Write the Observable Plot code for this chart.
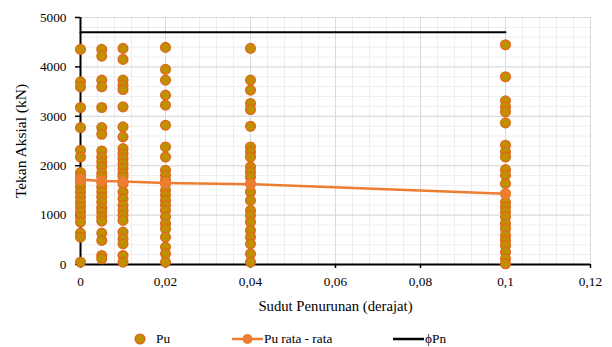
<!DOCTYPE html>
<html>
<head>
<meta charset="utf-8">
<script src="https://cdn.jsdelivr.net/npm/d3@7"></script>
<script src="https://cdn.jsdelivr.net/npm/@observablehq/plot@0.6"></script>
<style>
  html, body { margin: 0; padding: 0; background: #fff; }
  #wrap { width: 612px; height: 347px; position: relative; font-family: "Liberation Serif", serif; }
  #chart svg text { font-family: "Liberation Serif", serif !important; }
  #legend { position: absolute; left: 0; top: 310px; width: 612px; height: 37px; font-size: 13.3px; color: #000; font-family: "Liberation Serif", serif; }
  #legend .item { position: absolute; top: 29px; transform: translateY(-50%); display: flex; align-items: center; }
  #legend span { font-family: "Liberation Serif", serif; }
  #legend svg { display: block; }
</style>
</head>
<body>
<div id="wrap">
  <div id="chart"></div>
  <div id="legend"></div>
</div>
<script>
// Settlement angle (degrees) for each group of Pu values
const angles = [0, 0.005, 0.01, 0.02, 0.04, 0.1];

// Pu (kN) at each settlement angle
const pu0     = [4354, 3698, 3597, 3178, 2772, 2312, 2177, 1859, 1771, 1670, 1569, 1467, 1366, 1264, 1163, 1062, 960, 859, 636, 554, 47];
const pu0005  = [4354, 4219, 3732, 3597, 3178, 2772, 2637, 2299, 2177, 2076, 1974, 1853, 1771, 1670, 1569, 1467, 1366, 1264, 1149, 1062, 960, 879, 636, 487, 183, 115];
const pu001   = [4375, 4152, 3732, 3631, 3543, 3191, 2786, 2583, 2346, 2245, 2143, 2042, 1941, 1839, 1771, 1636, 1467, 1332, 1197, 1095, 994, 893, 656, 521, 419, 183, 47];
const pu002   = [4395, 3949, 3732, 3428, 3225, 2820, 2380, 2177, 1907, 1805, 1704, 1636, 1501, 1400, 1298, 1197, 1095, 960, 825, 723, 554, 352, 216, 47];
const pu004   = [4375, 3732, 3529, 3259, 3137, 2799, 2380, 2279, 2177, 1974, 1873, 1771, 1636, 1467, 1298, 1095, 994, 859, 690, 554, 419, 216, 47];
const pu01    = [4449, 3800, 3313, 3191, 3090, 2867, 2414, 2279, 2177, 1920, 1805, 1636, 1433, 1264, 1163, 1062, 960, 825, 723, 588, 487, 385, 250, 115, 14];

// Average Pu (kN) at each settlement angle
const puAvg = [1720, 1690, 1680, 1650, 1625, 1430];

// Design capacity phiPn (kN), drawn from the first to the last angle
const phiPnAngles = [0, 0.1];
const phiPn = [4700, 4700];

// Axis ticks
const xTicks = [0, 0.02, 0.04, 0.06, 0.08, 0.1, 0.12];
const yTicks = [0, 1000, 2000, 3000, 4000, 5000];

const puGroups = [pu0, pu0005, pu001, pu002, pu004, pu01];
const puPoints = puGroups.flatMap((vals, i) => vals.map(v => ({x: angles[i], y: v})));
const avgPoints = angles.map((a, i) => ({x: a, y: puAvg[i]}));
const phiPoints = phiPnAngles.map((a, i) => ({x: a, y: phiPn[i]}));

// minor grid every fifth of a major step
const xMinor = d3.range(0, 31).map(i => i * 0.004);
const yMinor = d3.range(0, 26).map(i => i * 200);

const fmtX = d => String(+d.toFixed(3)).replace(".", ",");

const chart = Plot.plot({
  width: 612,
  height: 310,
  marginLeft: 80,
  marginRight: 22,
  marginTop: 17,
  marginBottom: 46,
  style: {fontFamily: "Liberation Serif, serif", fontSize: "13px", color: "#000", background: "#fff", overflow: "visible"},
  x: {domain: [0, 0.12]},
  y: {domain: [0, 5000]},
  marks: [
    Plot.gridX(xMinor, {stroke: "#eeeeee", strokeOpacity: 1, strokeWidth: 1}),
    Plot.gridY(yMinor, {stroke: "#eeeeee", strokeOpacity: 1, strokeWidth: 1}),
    Plot.gridX(xTicks, {stroke: "#d9d9d9", strokeOpacity: 1, strokeWidth: 1}),
    Plot.gridY(yTicks, {stroke: "#d9d9d9", strokeOpacity: 1, strokeWidth: 1}),
    Plot.axisY(yTicks, {
      anchor: "left", tickSize: 5, tickPadding: 9, tickFormat: d => String(d),
      fontSize: 13.3, strokeWidth: 1.5,
      label: "Tekan Aksial (kN)", labelAnchor: "center", labelArrow: "none", labelOffset: 66
    }),
    Plot.axisX(xTicks, {
      anchor: "bottom", tickSize: 4, tickPadding: 8, tickFormat: fmtX,
      fontSize: 13.3, strokeWidth: 1.5,
      label: "Sudut Penurunan (derajat)", labelAnchor: "center", labelArrow: "none", labelOffset: 46
    }),
    Plot.ruleY([0], {stroke: "#000", strokeWidth: 2}),
    Plot.ruleX([0], {stroke: "#000", strokeWidth: 2}),
    Plot.dot(puPoints, {x: "x", y: "y", r: 4.8, fill: "#bf9000", stroke: "#dd6a1c", strokeWidth: 1.5}),
    Plot.line(avgPoints, {x: "x", y: "y", stroke: "#ed7d31", strokeWidth: 2.5}),
    Plot.dot(avgPoints, {x: "x", y: "y", r: 5, fill: "#ed7d31", stroke: "#ed7d31", strokeWidth: 1}),
    Plot.line(phiPoints, {x: "x", y: "y", stroke: "#000", strokeWidth: 2})
  ]
});

// axis titles are a little larger than tick labels
d3.select(chart).selectAll("[aria-label='x-axis label']").attr("font-size", 14.7);
d3.select(chart).selectAll("[aria-label='y-axis label']").attr("font-size", 15.5);
d3.select(chart).selectAll("text").style("font-family", "Liberation Serif, serif");

document.getElementById("chart").appendChild(chart);

// Legend below the plot
const legend = document.getElementById("legend");
const items = [
  {left: 134, symbol: `<svg width="12" height="12"><circle cx="6" cy="6" r="4.8" fill="#bf9000" stroke="#dd6a1c" stroke-width="1.5"/></svg>`, gap: 10, text: "Pu"},
  {left: 232, symbol: `<svg width="31" height="12"><line x1="0" y1="6" x2="31" y2="6" stroke="#ed7d31" stroke-width="2.5"/><circle cx="15.5" cy="6" r="5" fill="#ed7d31"/></svg>`, gap: 1, text: "Pu rata - rata"},
  {left: 393, symbol: `<svg width="31" height="12"><line x1="0" y1="6" x2="31" y2="6" stroke="#000" stroke-width="2.5"/></svg>`, gap: 1, text: "ϕPn"}
];
for (const it of items) {
  const el = document.createElement("div");
  el.className = "item";
  el.style.left = it.left + "px";
  el.innerHTML = it.symbol + `<span style="margin-left:${it.gap}px">${it.text}</span>`;
  legend.appendChild(el);
}
</script>
</body>
</html>
